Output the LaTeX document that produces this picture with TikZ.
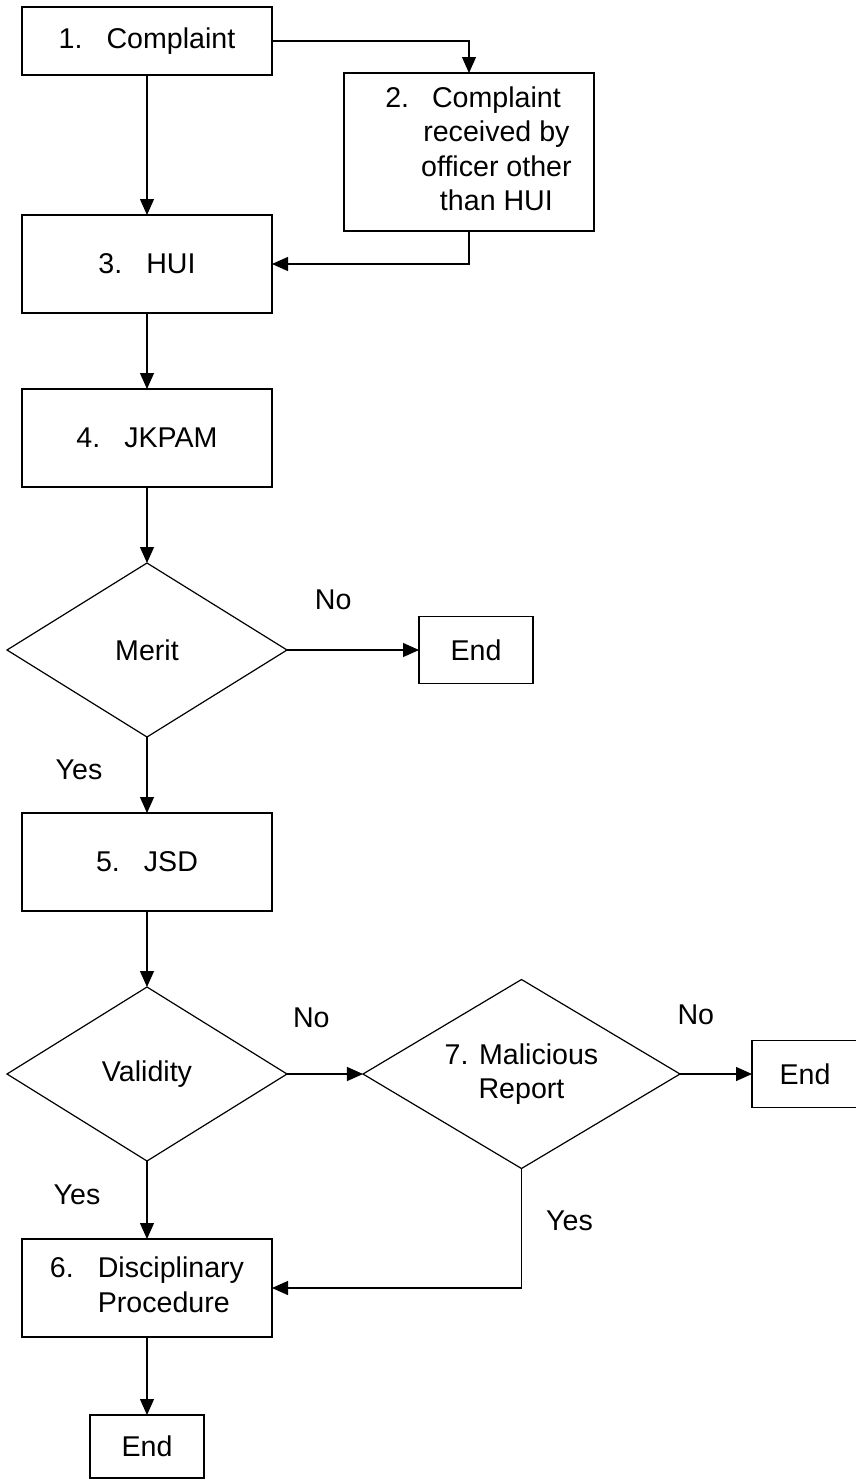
\documentclass[tikz,border=0pt]{standalone}
\usepackage{fontspec}
\setmainfont{Liberation Sans}
\usetikzlibrary{shapes.geometric, arrows.meta, positioning}

\begin{document}
\begin{tikzpicture}[
    node distance=38pt and 36pt,
    font=\fontsize{14.3pt}{17.25pt}\selectfont,
    line width=0.6pt,
    block/.style={rectangle, draw, minimum width=125pt, minimum height=49pt, inner sep=2pt, outer sep=0pt},
    decision/.style={diamond, draw, aspect=1.6, minimum width=140pt, minimum height=87pt, inner sep=0pt, outer sep=0pt, align=center},
    terminal/.style={rectangle, draw, minimum width=57pt, minimum height=33.5pt, outer sep=0pt},
    arrow/.style={-{Triangle[length=8pt, width=7pt]}},
    answer/.style={inner sep=0pt}
]
    \useasboundingbox (0,0) rectangle (428pt,-741.5pt);

    % Intake
    \node[block, minimum height=34pt] (complaint) at (73.5pt,-20.5pt) {1.\hspace{12pt}Complaint};
    \node[block, minimum height=79pt, below right=-1pt and 36pt of complaint] (other) {\begin{tabular}{@{\hspace{9.5pt}}l@{\hspace{6pt}}c@{}}2. & Complaint\\ & received by\\ & officer other\\ & than HUI\end{tabular}};
    \node[block, below=70pt of complaint] (hui) {3.\hspace{12pt}HUI};
    \node[block, below=of hui] (jkpam) {4.\hspace{12pt}JKPAM};

    % Merit check
    \node[decision, below=of jkpam] (merit) {Merit};
    \node[terminal, right=66pt of merit] (endmerit) {End};
    \node[block, below=of merit] (jsd) {5.\hspace{12pt}JSD};

    % Validity check
    \node[decision, below=of jsd] (validity) {Validity};
    \node[decision, minimum width=158.5pt, minimum height=94.5pt, right=38pt of validity] (malicious) {7. Malicious\\Report};
    \node[terminal, minimum width=53pt, right=of malicious] (endmal) {End};

    % Outcome
    \node[block, below=39pt of validity] (disc) {\begin{tabular}{@{}l@{\hspace{12pt}}l@{}}6. & Disciplinary\\ & Procedure\end{tabular}};
    \node[terminal, minimum height=31.5pt, below=39pt of disc] (endfinal) {End};

    % Arrows
    \draw[arrow] (complaint) -- (hui);
    \draw[arrow] (complaint.east) -| (other.north);
    \draw[arrow] (other.south) |- (hui.east);
    \draw[arrow] (hui) -- (jkpam);
    \draw[arrow] (jkpam) -- (merit);
    \draw[arrow] (merit) -- node[answer, pos=0.35, yshift=25pt] {No} (endmerit);
    \draw[arrow] (merit) -- node[answer, pos=0.43, xshift=-34pt] {Yes} (jsd);
    \draw[arrow] (jsd) -- (validity);
    \draw[arrow] (validity) -- node[answer, pos=0.32, yshift=28pt] {No} (malicious);
    \draw[arrow] (malicious) -- node[answer, pos=0.22, yshift=29.5pt] {No} (endmal);
    \draw[arrow] (validity) -- node[answer, pos=0.43, xshift=-35pt] {Yes} (disc);
    \draw[arrow] (malicious.south) |- node[answer, pos=0.22, xshift=24pt] {Yes} (disc.east);
    \draw[arrow] (disc) -- (endfinal);

\end{tikzpicture}
\end{document}
